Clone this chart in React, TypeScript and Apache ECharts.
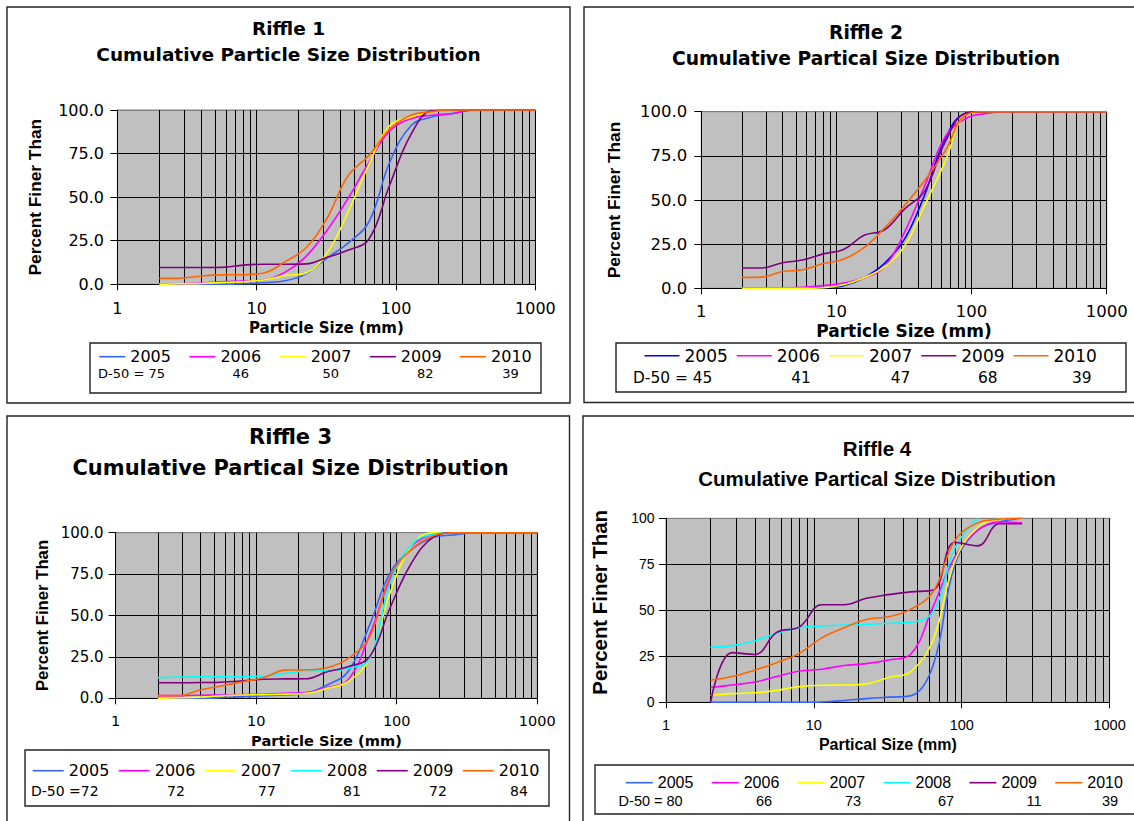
import React, { useEffect, useRef } from "react";
import * as echarts from "echarts";

// ---------------- data ----------------
const sieveSizes = [2, 2.8, 4, 5.6, 8, 11.3, 16, 22.6, 32, 45, 64, 90, 128, 180, 256, 362, 512, 1000];
const sieveSizesR4 = [2, 2.8, 4, 5.6, 8, 11.3, 16, 22.6, 32, 45, 64, 90, 128, 180, 256];
const minorGridLines = [2, 3, 4, 5, 6, 7, 8, 9, 20, 30, 40, 50, 60, 70, 80, 90, 200, 300, 400, 500, 600, 700, 800, 900];
const xTickValues = [1, 10, 100, 1000];
const yTickValues = [0, 25, 50, 75, 100];

const years5 = ["2005", "2006", "2007", "2009", "2010"];
const years6 = ["2005", "2006", "2007", "2008", "2009", "2010"];

// Riffle 1
const r1_2005 = [0, 0, 0, 0, 0.3, 1, 2, 6, 15, 23.5, 36, 70, 91, 96, 98, 100, 100, 100];
const r1_2006 = [0, 0.3, 0.7, 1.5, 1.8, 2.5, 7, 16, 31, 49, 70, 88, 95, 97, 98, 100, 100, 100];
const r1_2007 = [0, 0.3, 0.5, 1, 1.5, 2.5, 5, 6.5, 18, 41, 69, 91, 96, 99, 100, 100, 100, 100];
const r1_2009 = [9.6, 9.6, 9.6, 9.7, 11, 11.5, 11.5, 11.7, 15.5, 19.5, 26, 57, 86, 99.5, 100, 100, 100, 100];
const r1_2010 = [3.4, 3.5, 4.8, 5.4, 5.5, 6.5, 13, 21, 38, 62, 74, 89, 97, 99, 100, 100, 100, 100];
const r1D50 = ["75", "46", "50", "82", "39"];

// Riffle 2
const r2_2005 = [0, 0, 0, 0, 0.3, 1.5, 6, 14, 28, 53, 85, 99, 100, 100, 100, 100, 100, 100];
const r2_2006 = [0, 0, 0.2, 0.5, 1.5, 3, 6, 12, 32, 58, 86, 96, 99, 100, 100, 100, 100, 100];
const r2_2007 = [0, 0, 0, 0, 0.3, 2, 6, 12, 24, 47, 72, 98, 100, 100, 100, 100, 100, 100];
const r2_2009 = [11.5, 11.5, 14.5, 16, 19.5, 22, 30, 33, 45, 55, 83, 99, 100, 100, 100, 100, 100, 100];
const r2_2010 = [6.2, 6.3, 9.5, 10.5, 14, 16.5, 23, 34, 47, 61, 78, 98, 100, 100, 100, 100, 100, 100];
const r2D50 = ["45", "41", "47", "68", "39"];

// Riffle 3
const r3_2005 = [0, 0, 0, 0.3, 1, 1.5, 2, 3, 8, 16, 44, 76, 90, 97, 98.6, 100, 100, 100];
const r3_2006 = [1.6, 1.6, 1.8, 2, 2.2, 2.5, 3, 3.4, 6.5, 11, 38, 72, 92, 99, 100, 100, 100, 100];
const r3_2007 = [0, 0.3, 0.7, 1.5, 2, 2.2, 2.5, 3, 6, 10, 24, 64, 92.5, 100, 100, 100, 100, 100];
const r3_2008 = [12.5, 12.8, 13, 13, 13, 13.5, 15, 16.5, 16.8, 18, 24, 70, 93, 99, 100, 100, 100, 100];
const r3_2009 = [9.4, 9.4, 9.5, 9.7, 10.5, 11.5, 11.7, 11.8, 16, 19, 25, 55, 82, 97, 100, 100, 100, 100];
const r3_2010 = [1.6, 1.6, 5, 7.4, 10, 12.5, 17, 17.2, 18.5, 24, 37, 74, 90, 98, 100, 100, 100, 100];
const r3D50 = ["72", "72", "77", "81", "72", "84"];

// Riffle 4
const r4_2005 = [0, 0, 0, 0, 0, 0.2, 1, 2, 2.8, 3.5, 20, 75, 93.5, 98, 100];
const r4_2006 = [8, 9.4, 11, 14, 17, 18, 20, 21, 23, 26, 52, 79, 93.5, 98, 97.5];
const r4_2007 = [3.8, 4.7, 5.2, 6.5, 8.5, 9.3, 9.4, 10, 13.5, 16.5, 34, 77, 95, 99.5, 100];
const r4_2008 = [30, 30.8, 33.5, 37.5, 40.5, 41.5, 42, 42.3, 43, 43.5, 49, 84, 100];
const r4_2009 = [0, 27, 26, 38, 41, 53, 53, 56.5, 58.5, 60, 61, 87, 85, 97, 97];
const r4_2010 = [12, 14, 17.5, 21.5, 26.6, 35, 40.5, 45, 46.5, 50.5, 60, 88, 97.5, 99.5, 100];
const r4D50 = ["80", "66", "73", "67", "11", "39"];

// ---------------- styles / layout ----------------
const C = {
  c2005: "#3366FF",
  c2005b: "#0000FF",
  c2006: "#FF00FF",
  c2007: "#FFFF00",
  c2008: "#00FFFF",
  c2009: "#800080",
  c2010: "#FF6600",
};
const DV = "DejaVu Sans";
const LS = "Liberation Sans";

type Panel = {
  div: { left: number; top: number; width: number; height: number };
  box: [number, number, number, number];
  title: { text: string; cx: number; y1: number; lh: number; font: string; size: number };
  grid: { left: number; top: number; width: number; height: number };
  yLabel: { font: string; size: number; margin: number; decimals: number };
  yName: { size: number; gap: number; shift: number };
  xLabel: { font: string; size: number; margin: number };
  xName: { text: string; font: string; size: number; gap: number };
  legend: { left: number; rowY: number; itemWidth: number; itemGap: number; font: string; size: number };
  legendBox: [number, number, number, number];
  d50: { rowY: number; font: string; size: number; firstLeft: number; centers: number[]; prefix: string; values: string[] };
  sizes: number[];
  series: { name: string; color: string; values: number[] }[];
};

const panels: Panel[] = [
  {
    div: { left: 0, top: 0, width: 577, height: 410 },
    box: [7, 7, 563, 396],
    title: { text: "Riffle 1\nCumulative Particle Size Distribution", cx: 288.5, y1: 28, lh: 26, font: DV, size: 18.5 },
    grid: { left: 117.4, top: 110, width: 418, height: 174.3 },
    yLabel: { font: DV, size: 16, margin: 13.4, decimals: 1 },
    yName: { size: 17.3, gap: 74, shift: 0 },
    xLabel: { font: DV, size: 16, margin: 16.2 },
    xName: { text: "Particle Size (mm)", font: DV, size: 15, gap: 35.7 },
    legend: { left: 99.2, rowY: 356.7, itemWidth: 26, itemGap: 18.5, font: DV, size: 16 },
    legendBox: [90, 343, 451, 50],
    d50: { rowY: 373.3, font: DV, size: 13, firstLeft: 98, centers: [240.8, 330.8, 425.3, 510.4], prefix: "D-50 = ", values: r1D50 },
    sizes: sieveSizes,
    series: [
      { name: years5[0], color: C.c2005, values: r1_2005 },
      { name: years5[1], color: C.c2006, values: r1_2006 },
      { name: years5[2], color: C.c2007, values: r1_2007 },
      { name: years5[3], color: C.c2009, values: r1_2009 },
      { name: years5[4], color: C.c2010, values: r1_2010 },
    ],
  },
  {
    div: { left: 577, top: 0, width: 557, height: 410 },
    box: [7, 7, 600, 395.5],
    title: { text: "Riffle 2\nCumulative Partical Size Distribution", cx: 289, y1: 32.3, lh: 26.4, font: DV, size: 18.7 },
    grid: { left: 124.3, top: 111.7, width: 405.4, height: 176.6 },
    yLabel: { font: DV, size: 16.5, margin: 14, decimals: 1 },
    yName: { size: 17.3, gap: 79, shift: 0 },
    xLabel: { font: DV, size: 16.5, margin: 15 },
    xName: { text: "Particle Size (mm)", font: DV, size: 17, gap: 33.7 },
    legend: { left: 67.5, rowY: 355.7, itemWidth: 35, itemGap: 9, font: DV, size: 17 },
    legendBox: [39, 343, 510, 49],
    d50: { rowY: 377.7, font: DV, size: 15.4, firstLeft: 56, centers: [224, 323.6, 410.7, 504.7], prefix: "D-50 = ", values: r2D50 },
    sizes: sieveSizes,
    series: [
      { name: years5[0], color: C.c2005b, values: r2_2005 },
      { name: years5[1], color: C.c2006, values: r2_2006 },
      { name: years5[2], color: C.c2007, values: r2_2007 },
      { name: years5[3], color: C.c2009, values: r2_2009 },
      { name: years5[4], color: C.c2010, values: r2_2010 },
    ],
  },
  {
    div: { left: 0, top: 410, width: 577, height: 411 },
    box: [7, 6, 562.5, 500],
    title: { text: "Riffle 3\nCumulative Partical Size Distribution", cx: 290.5, y1: 26.7, lh: 31.6, font: DV, size: 21 },
    grid: { left: 115.6, top: 122.7, width: 421.7, height: 165.6 },
    yLabel: { font: DV, size: 15, margin: 12, decimals: 1 },
    yName: { size: 16.7, gap: 65, shift: 0 },
    xLabel: { font: DV, size: 14.5, margin: 15.5 },
    xName: { text: "Particle Size (mm)", font: DV, size: 14.6, gap: 34.4 },
    legend: { left: 32.7, rowY: 360.7, itemWidth: 31, itemGap: 9.3, font: DV, size: 16 },
    legendBox: [25, 340, 524, 56],
    d50: { rowY: 381, font: DV, size: 14, firstLeft: 30.9, centers: [176, 267, 352, 438, 519], prefix: "D-50 =", values: r3D50 },
    sizes: sieveSizes,
    series: [
      { name: years6[0], color: C.c2005, values: r3_2005 },
      { name: years6[1], color: C.c2006, values: r3_2006 },
      { name: years6[2], color: C.c2007, values: r3_2007 },
      { name: years6[3], color: C.c2008, values: r3_2008 },
      { name: years6[4], color: C.c2009, values: r3_2009 },
      { name: years6[5], color: C.c2010, values: r3_2010 },
    ],
  },
  {
    div: { left: 577, top: 410, width: 557, height: 411 },
    box: [6, 6, 600, 500],
    title: { text: "Riffle 4\nCumulative Partical Size Distribution", cx: 300, y1: 38.3, lh: 30, font: LS, size: 20.5 },
    grid: { left: 89, top: 108.3, width: 443.6, height: 184 },
    yLabel: { font: LS, size: 14, margin: 11.5, decimals: 0 },
    yName: { size: 20.4, gap: 56, shift: 16 },
    xLabel: { font: LS, size: 14.5, margin: 15.5 },
    xName: { text: "Partical Size (mm)", font: LS, size: 16, gap: 33.7 },
    legend: { left: 48.8, rowY: 372.7, itemWidth: 27, itemGap: 18.3, font: LS, size: 16 },
    legendBox: [18, 355, 600, 49],
    d50: { rowY: 390.7, font: LS, size: 14.5, firstLeft: 41.6, centers: [187, 276, 369, 457, 533], prefix: "D-50 = ", values: r4D50 },
    sizes: sieveSizesR4,
    series: [
      { name: years6[0], color: C.c2005, values: r4_2005 },
      { name: years6[1], color: C.c2006, values: r4_2006 },
      { name: years6[2], color: C.c2007, values: r4_2007 },
      { name: years6[3], color: C.c2008, values: r4_2008 },
      { name: years6[4], color: C.c2009, values: r4_2009 },
      { name: years6[5], color: C.c2010, values: r4_2010 },
    ],
  },
];

function buildOption(p: Panel): any {
  const series: any[] = p.series.map((s, i) => {
    const base: any = {
      name: s.name,
      type: "line",
      smooth: 0.4,
      symbol: "none",
      showSymbol: false,
      z: 3,
      lineStyle: { color: s.color, width: 1.6 },
      itemStyle: { color: s.color },
      emphasis: { disabled: true },
      data: s.values.map((v, j) => [p.sizes[j], v]),
    };
    if (i === 0) {
      base.markLine = {
        silent: true,
        z: 1,
        symbol: ["none", "none"],
        label: { show: false },
        emphasis: { disabled: true },
        lineStyle: { color: "#000", width: 1, type: "solid" },
        data: minorGridLines.map((v) => ({ xAxis: v })),
        animation: false,
      };
    }
    return base;
  });

  const lh = p.legend.size + 2;
  const graphic: any[] = [
    {
      type: "rect",
      silent: true,
      z: -1,
      shape: { x: p.box[0], y: p.box[1], width: p.box[2], height: p.box[3] },
      style: { fill: "none", stroke: "#222", lineWidth: 1.4 },
    },
    {
      type: "rect",
      silent: true,
      z: -1,
      shape: { x: p.legendBox[0], y: p.legendBox[1], width: p.legendBox[2], height: p.legendBox[3] },
      style: { fill: "#fff", stroke: "#222", lineWidth: 1.4 },
    },
  ];
  p.d50.values.forEach((v, i) => {
    const isFirst = i === 0;
    graphic.push({
      type: "text",
      silent: true,
      z: 5,
      x: isFirst ? p.d50.firstLeft : p.d50.centers[i - 1],
      y: p.d50.rowY,
      style: {
        text: isFirst ? p.d50.prefix + v : v,
        fontFamily: p.d50.font,
        fontSize: p.d50.size,
        fill: "#000",
        align: isFirst ? "left" : "center",
        verticalAlign: "middle",
      },
    });
  });

  return {
    animation: false,
    backgroundColor: "transparent",
    title: {
      text: p.title.text,
      left: p.title.cx,
      top: p.title.y1 - p.title.lh / 2,
      textAlign: "center",
      padding: 0,
      textStyle: {
        fontFamily: p.title.font,
        fontSize: p.title.size,
        fontWeight: "bold",
        color: "#000",
        lineHeight: p.title.lh,
      },
    },
    legend: {
      data: p.series.map((s) => s.name),
      left: p.legend.left,
      top: p.legend.rowY - lh / 2,
      orient: "horizontal",
      padding: 0,
      icon: "rect",
      itemWidth: p.legend.itemWidth,
      itemHeight: 1.6,
      itemGap: p.legend.itemGap,
      selectedMode: false,
      textStyle: { fontFamily: p.legend.font, fontSize: p.legend.size, color: "#000", lineHeight: lh },
      z: 6,
    },
    grid: {
      ...p.grid,
      show: true,
      backgroundColor: "#C0C0C0",
      borderColor: "#808080",
      borderWidth: 1,
      outerBoundsMode: "none",
      containLabel: false,
    },
    xAxis: {
      type: "log",
      logBase: 10,
      min: xTickValues[0],
      max: xTickValues[xTickValues.length - 1],
      name: p.xName.text,
      nameLocation: "middle",
      nameGap: p.xName.gap,
      nameMoveOverlap: false,
      nameTextStyle: {
        fontFamily: p.xName.font,
        fontSize: p.xName.size,
        lineHeight: p.xName.size,
        fontWeight: "bold",
        color: "#000",
      },
      axisLine: { show: true, onZero: false, lineStyle: { color: "#000", width: 1 } },
      axisTick: { show: true, inside: false, length: 6, lineStyle: { color: "#000", width: 1 } },
      axisLabel: {
        margin: p.xLabel.margin,
        fontFamily: p.xLabel.font,
        fontSize: p.xLabel.size,
        lineHeight: p.xLabel.size,
        color: "#000",
        formatter: (v: number) => String(Math.round(v)),
      },
      splitLine: { show: true, lineStyle: { color: "#000", width: 1 } },
      minorTick: { show: false },
      minorSplitLine: { show: false },
    },
    yAxis: {
      type: "value",
      min: yTickValues[0],
      max: yTickValues[yTickValues.length - 1],
      interval: yTickValues[1] - yTickValues[0],
      name: "Percent Finer Than",
      nameLocation: "middle",
      nameRotate: 90,
      nameGap: p.yName.gap,
      nameMoveOverlap: false,
      nameTextStyle: {
        fontFamily: LS,
        fontSize: p.yName.size,
        fontWeight: "bold",
        color: "#000",
        padding: [0, 0, 0, p.yName.shift],
      },
      axisLine: { show: true, lineStyle: { color: "#000", width: 1 } },
      axisTick: { show: true, inside: false, length: 7, lineStyle: { color: "#000", width: 1 } },
      axisLabel: {
        margin: p.yLabel.margin,
        fontFamily: p.yLabel.font,
        fontSize: p.yLabel.size,
        color: "#000",
        formatter: (v: number) => v.toFixed(p.yLabel.decimals),
      },
      splitLine: { show: true, lineStyle: { color: ["#000", "#000", "#000", "#000", "#808080"], width: 1 } },
    },
    graphic,
    series,
  };
}

function ChartPanel({ panel }: { panel: Panel }) {
  const ref = useRef<HTMLDivElement>(null);
  useEffect(() => {
    if (!ref.current) return;
    const chart = echarts.init(ref.current, undefined, { renderer: "svg" });
    chart.setOption(buildOption(panel));
    return () => chart.dispose();
  }, [panel]);
  return (
    <div
      ref={ref}
      style={{
        position: "absolute",
        left: panel.div.left,
        top: panel.div.top,
        width: panel.div.width,
        height: panel.div.height,
      }}
    />
  );
}

export default function App() {
  return (
    <div
      style={{
        position: "absolute",
        left: 0,
        top: 0,
        width: 1134,
        height: 821,
        overflow: "hidden",
        background: "#fff",
      }}
    >
      {panels.map((p, i) => (
        <ChartPanel key={i} panel={p} />
      ))}
    </div>
  );
}
